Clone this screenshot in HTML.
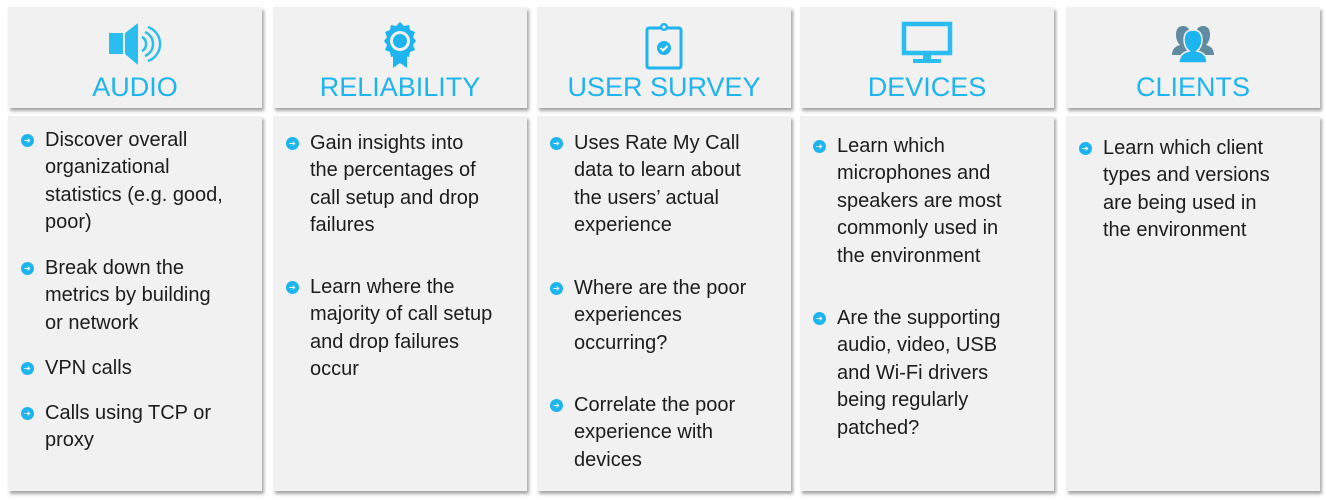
<!DOCTYPE html>
<html><head><meta charset="utf-8"><style>
body{margin:0;width:1326px;height:500px;background:#fff;position:relative;overflow:hidden;font-family:"Liberation Sans",sans-serif}
.box{position:absolute;background:#f1f1f1;box-shadow:2px 3px 3px rgba(0,0,0,.35)}
.h{top:7px;height:101px;width:254px}
.b{top:116px;height:375px;width:254px}
.t{position:absolute;left:0;width:100%;text-align:center;top:63px;font-size:27px;color:#1eb4ef;line-height:34px}
.ic{position:absolute;left:50%;top:14px;transform:translateX(-50%)}
.it{position:absolute;left:37px;font-size:20px;line-height:27.4px;color:#1c1c1c;white-space:nowrap}
.it:before{content:"";position:absolute;left:-24px;top:7px;width:13px;height:13px;border-radius:50%;background:#1eb4ef}
.it:after{content:"➔";position:absolute;left:-21px;top:0;font-size:8px;color:#fff;line-height:27px}
</style></head><body>
<div class="box h" style="left:8px"><svg class="ic" width="56" height="46" viewBox="0 0 56 46"><rect x="2" y="12" width="14" height="21" fill="#29bdf0"/><path d="M18 12 L31 2 V44 L18 33Z" fill="#29bdf0"/><path d="M35 16 a8 8 0 0 1 0 14M38 11 a13 13 0 0 1 0 24M41 6 a18 18 0 0 1 0 34" fill="none" stroke="#29bdf0" stroke-width="2.5"/></svg><div class="t">AUDIO</div></div>
<div class="box h" style="left:273px"><svg class="ic" width="40" height="48" viewBox="0 0 40 48"><polygon points="20,1 24,5 29,4 30,9 35,11 33,16 36,20 33,24 35,29 30,31 29,36 24,35 20,39 16,35 11,36 10,31 5,29 7,24 4,20 7,16 5,11 10,9 11,4 16,5" fill="#1eb4ef"/><circle cx="20" cy="20" r="10" fill="#f1f1f1"/><circle cx="20" cy="20" r="7" fill="#1eb4ef"/><path d="M13 35 V47 L20 42 L27 47 V35Z" fill="#1eb4ef"/></svg><div class="t">RELIABILITY</div></div>
<div class="box h" style="left:537px"><svg class="ic" width="40" height="50" viewBox="0 0 40 50"><rect x="3" y="7" width="34" height="40" rx="2" fill="none" stroke="#1eb4ef" stroke-width="3"/><circle cx="20" cy="6" r="4" fill="#1eb4ef"/><circle cx="20" cy="6" r="1.6" fill="#f1f1f1"/><circle cx="20" cy="27" r="7" fill="#1eb4ef"/><path d="M16.5 27 l2.5 2.5 l4.5-4.5" stroke="#fff" stroke-width="2" fill="none"/></svg><div class="t">USER SURVEY</div></div>
<div class="box h" style="left:800px"><svg class="ic" width="52" height="44" viewBox="0 0 52 44"><rect x="3" y="3" width="46" height="29" fill="none" stroke="#29bdf0" stroke-width="4.5"/><rect x="22" y="32" width="8" height="6" fill="#29bdf0"/><rect x="12" y="38" width="28" height="4" fill="#29bdf0"/></svg><div class="t">DEVICES</div></div>
<div class="box h" style="left:1066px"><svg class="ic" width="46" height="44" viewBox="0 0 46 44"><path d="M2 34 q0-8 8-10 q-4-4-4-10 q0-9 7-9 q7 0 7 9 q0 6-4 10 q8 2 8 10Z" fill="#5f8aa0"/><path d="M44 34 q0-8-8-10 q4-4 4-10 q0-9-7-9 q-7 0-7 9 q0 6 4 10 q-8 2-8 10Z" fill="#5f8aa0"/><path d="M9 42 q0-10 10-12 q-5-4-5-11 q0-10 9-10 q9 0 9 10 q0 7-5 11 q10 2 10 12Z" fill="#1eb4ef" stroke="#f1f1f1" stroke-width="1.5"/></svg><div class="t">CLIENTS</div></div>

<div class="box b" style="left:8px">
<div class="it" style="top:11px">Discover overall<br>organizational<br>statistics (e.g. good,<br>poor)</div>
<div class="it" style="top:139px">Break down the<br>metrics by building<br>or network</div>
<div class="it" style="top:239px">VPN calls</div>
<div class="it" style="top:284px">Calls using TCP or<br>proxy</div>
</div>
<div class="box b" style="left:273px">
<div class="it" style="top:14px">Gain insights into<br>the percentages of<br>call setup and drop<br>failures</div>
<div class="it" style="top:158px">Learn where the<br>majority of call setup<br>and drop failures<br>occur</div>
</div>
<div class="box b" style="left:537px">
<div class="it" style="top:14px">Uses Rate My Call<br>data to learn about<br>the users’ actual<br>experience</div>
<div class="it" style="top:159px">Where are the poor<br>experiences<br>occurring?</div>
<div class="it" style="top:276px">Correlate the poor<br>experience with<br>devices</div>
</div>
<div class="box b" style="left:800px">
<div class="it" style="top:17px">Learn which<br>microphones and<br>speakers are most<br>commonly used in<br>the environment</div>
<div class="it" style="top:189px">Are the supporting<br>audio, video, USB<br>and Wi-Fi drivers<br>being regularly<br>patched?</div>
</div>
<div class="box b" style="left:1066px">
<div class="it" style="top:19px">Learn which client<br>types and versions<br>are being used in<br>the environment</div>
</div>
</body></html>
